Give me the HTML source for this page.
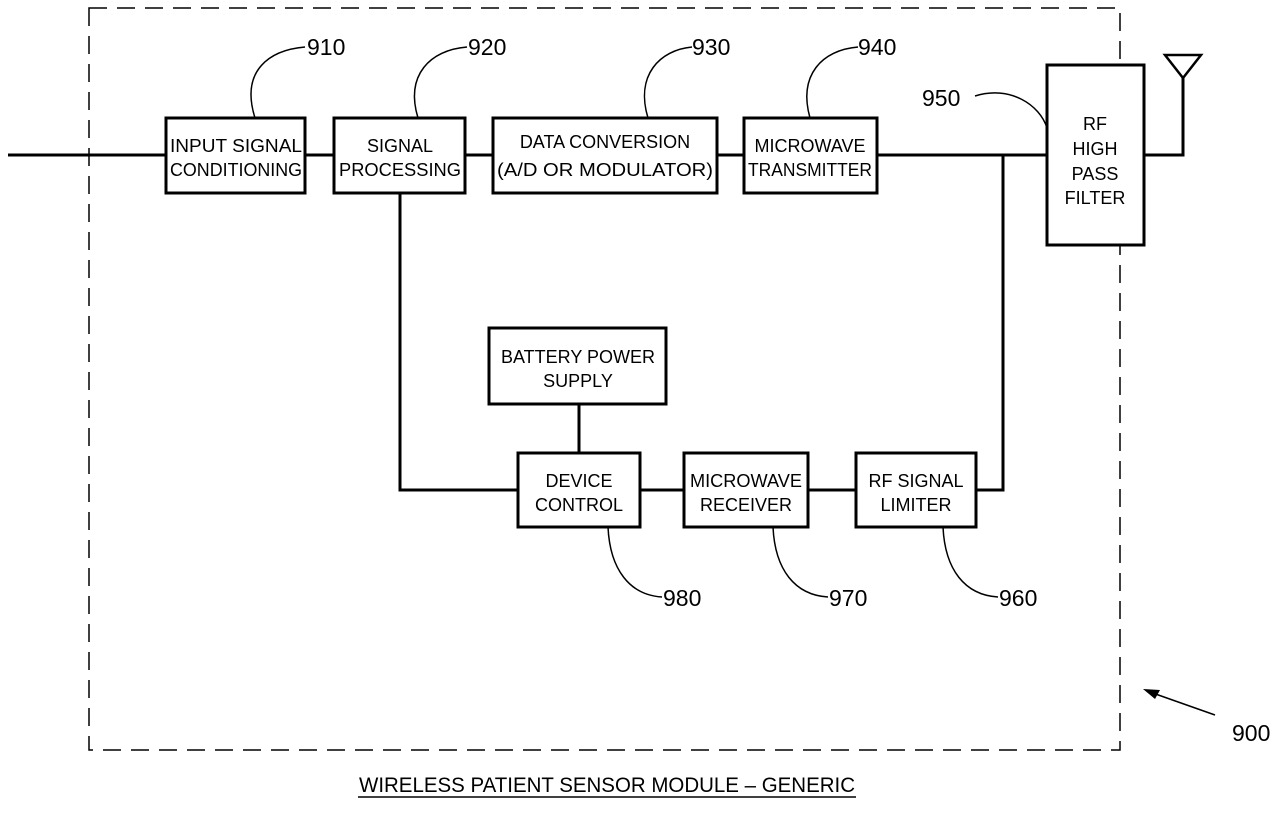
<!DOCTYPE html>
<html><head><style>
body{margin:0;background:#fff;}
svg text{font-family:"Liberation Sans",sans-serif;fill:#000;}
</style></head><body>
<svg width="1286" height="812" viewBox="0 0 1286 812" xmlns="http://www.w3.org/2000/svg">
<rect x="89" y="8" width="1031" height="742" fill="none" stroke="#000" stroke-width="1.5" stroke-dasharray="18,10"/>
<g fill="none" stroke="#000" stroke-width="3">
<rect x="166" y="118" width="139" height="75" fill="#fff"/>
<rect x="334" y="118" width="131" height="75" fill="#fff"/>
<rect x="493" y="118" width="224" height="75" fill="#fff"/>
<rect x="744" y="118" width="133" height="75" fill="#fff"/>
<rect x="1047" y="65" width="97" height="180" fill="#fff"/>
<rect x="489" y="328" width="177" height="76" fill="#fff"/>
<rect x="518" y="453" width="122" height="74" fill="#fff"/>
<rect x="684" y="453" width="124" height="74" fill="#fff"/>
<rect x="856" y="453" width="120" height="74" fill="#fff"/>
</g>
<g stroke="#000" stroke-width="3" fill="none">
<line x1="8" y1="155" x2="166" y2="155"/>
<line x1="305" y1="155" x2="334" y2="155"/>
<line x1="465" y1="155" x2="493" y2="155"/>
<line x1="717" y1="155" x2="744" y2="155"/>
<line x1="877" y1="155" x2="1047" y2="155"/>
<polyline points="1144,155 1183,155 1183,78"/>
<polyline points="1003,155 1003,490 976,490"/>
<line x1="808" y1="490" x2="856" y2="490"/>
<line x1="640" y1="490" x2="684" y2="490"/>
<polyline points="400,193 400,490 518,490"/>
<line x1="579" y1="404" x2="579" y2="453"/>
</g>
<polygon points="1165,55 1201,55 1183,78" fill="none" stroke="#000" stroke-width="2.5"/>
<g stroke="#000" stroke-width="1.5" fill="none">
<path d="M255,118 C240,70 270,50 305,47"/>
<path d="M418,118 C405,75 430,50 467,47"/>
<path d="M648,118 C635,75 660,50 692,47"/>
<path d="M810,118 C798,75 822,50 858,47"/>
<path d="M975,96 C1010,85 1040,105 1047,128"/>
<path d="M608,527 C610,570 630,595 662,597"/>
<path d="M773,527 C775,570 795,595 828,597"/>
<path d="M943,527 C945,570 965,595 998,597"/>
<line x1="1215" y1="715" x2="1147" y2="691"/>
</g>
<polygon points="1143,689 1160,690 1155,699" fill="#000"/>
<g font-size="18" text-anchor="middle">
<text x="236" y="152" textLength="132" lengthAdjust="spacingAndGlyphs">INPUT SIGNAL</text>
<text x="236" y="176" textLength="132" lengthAdjust="spacingAndGlyphs">CONDITIONING</text>
<text x="400" y="152">SIGNAL</text>
<text x="400" y="176" textLength="122" lengthAdjust="spacingAndGlyphs">PROCESSING</text>
<text x="605" y="148">DATA CONVERSION</text>
<text x="605" y="176" textLength="216" lengthAdjust="spacingAndGlyphs">(A/D OR MODULATOR)</text>
<text x="810" y="152">MICROWAVE</text>
<text x="810" y="176" textLength="124" lengthAdjust="spacingAndGlyphs">TRANSMITTER</text>
<text x="1095" y="130">RF</text>
<text x="1095" y="155">HIGH</text>
<text x="1095" y="180">PASS</text>
<text x="1095" y="204">FILTER</text>
<text x="578" y="363">BATTERY POWER</text>
<text x="578" y="387">SUPPLY</text>
<text x="579" y="487">DEVICE</text>
<text x="579" y="511">CONTROL</text>
<text x="746" y="487" textLength="112" lengthAdjust="spacingAndGlyphs">MICROWAVE</text>
<text x="746" y="511">RECEIVER</text>
<text x="916" y="487">RF SIGNAL</text>
<text x="916" y="511">LIMITER</text>
</g>
<g font-size="23">
<text x="307" y="55">910</text>
<text x="468" y="55">920</text>
<text x="692" y="55">930</text>
<text x="858" y="55">940</text>
<text x="922" y="106">950</text>
<text x="663" y="606">980</text>
<text x="829" y="606">970</text>
<text x="999" y="606">960</text>
<text x="1232" y="741">900</text>
</g>
<text x="607" y="792" font-size="21" text-anchor="middle" textLength="496" lengthAdjust="spacingAndGlyphs">WIRELESS PATIENT SENSOR MODULE – GENERIC</text>
<line x1="358" y1="797" x2="856" y2="797" stroke="#000" stroke-width="1.5"/>
</svg>
</body></html>
